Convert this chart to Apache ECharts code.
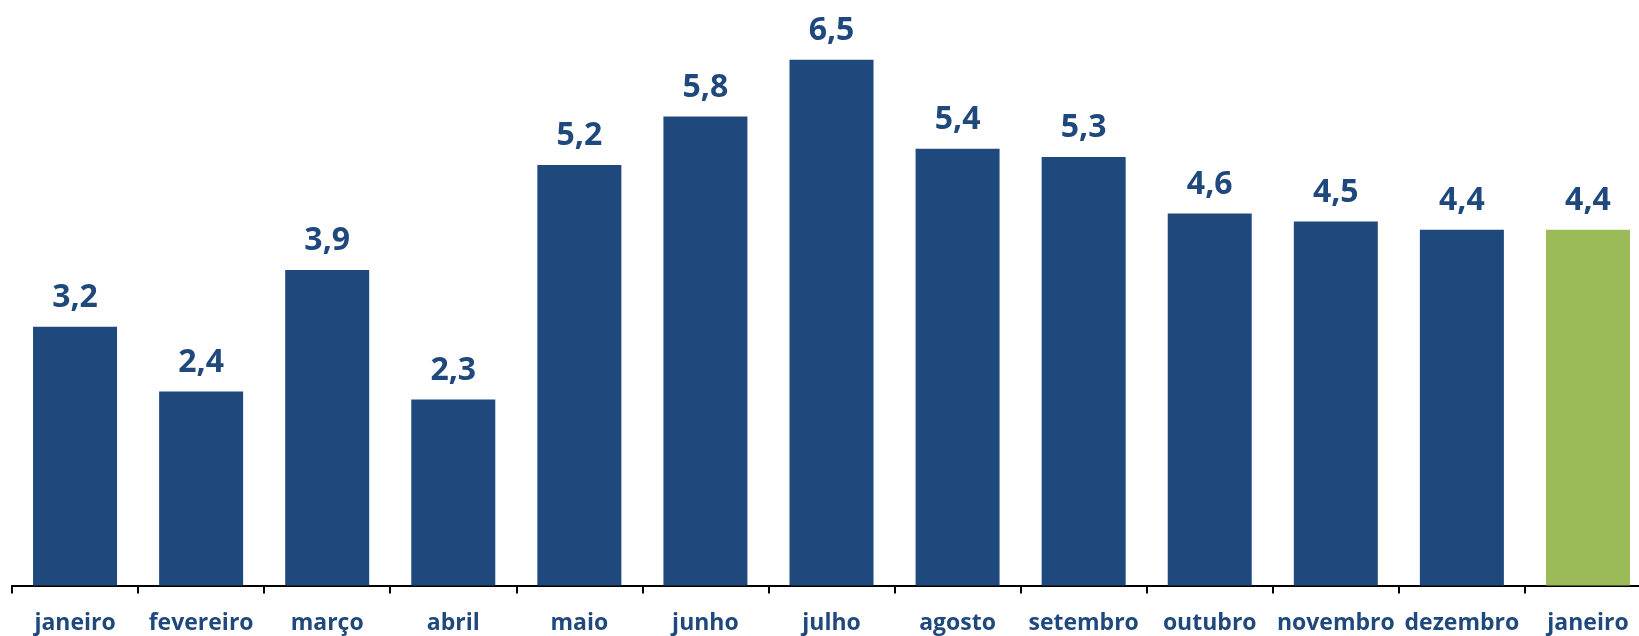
<!DOCTYPE html>
<html>
<head>
<meta charset="utf-8">
<script src="https://cdn.jsdelivr.net/npm/echarts@6/dist/echarts.min.js"></script>
<style>
  html, body { margin: 0; padding: 0; background: #fff; }
  #chart { width: 1639px; height: 636px; }
</style>
</head>
<body>
<div id="chart"></div>
<script>
// months shown on the axis (last one is the new year)
const months = [
  'janeiro', 'fevereiro', 'março', 'abril', 'maio', 'junho', 'julho',
  'agosto', 'setembro', 'outubro', 'novembro', 'dezembro', 'janeiro'
];
const values = [3.2, 2.4, 3.9, 2.3, 5.2, 5.8, 6.5, 5.4, 5.3, 4.6, 4.5, 4.4, 4.4];
const highlightIndex = 12;

const blue = '#1F497D';
const green = '#9BBB59';

const chart = echarts.init(document.getElementById('chart'));

chart.setOption({
  animation: false,
  grid: {
    left: 12,
    right: -12,
    top: 0,
    bottom: 50.5,
    outerBoundsMode: 'none',
    containLabel: false
  },
  xAxis: {
    type: 'category',
    data: months,
    boundaryGap: true,
    axisLine: {
      lineStyle: { color: '#000', width: 2 }
    },
    axisTick: {
      show: true,
      length: 8,
      lineStyle: { color: '#000', width: 2 }
    },
    axisLabel: {
      interval: 0,
      margin: 26,
      color: blue,
      fontFamily: 'Open Sans',
      fontWeight: 'bold',
      fontSize: 23
    }
  },
  yAxis: {
    type: 'value',
    min: 0,
    max: 7.24,
    show: false,
    splitLine: { show: false }
  },
  series: [
    {
      type: 'bar',
      barWidth: 84,
      data: values.map((v, i) => ({
        value: v,
        itemStyle: { color: i === highlightIndex ? green : blue }
      })),
      label: {
        show: true,
        position: 'top',
        distance: 13,
        color: blue,
        fontFamily: 'Open Sans',
        fontWeight: 'bold',
        fontSize: 32,
        formatter: (p) => p.value.toFixed(1).replace('.', ',')
      }
    }
  ]
});
</script>
</body>
</html>
